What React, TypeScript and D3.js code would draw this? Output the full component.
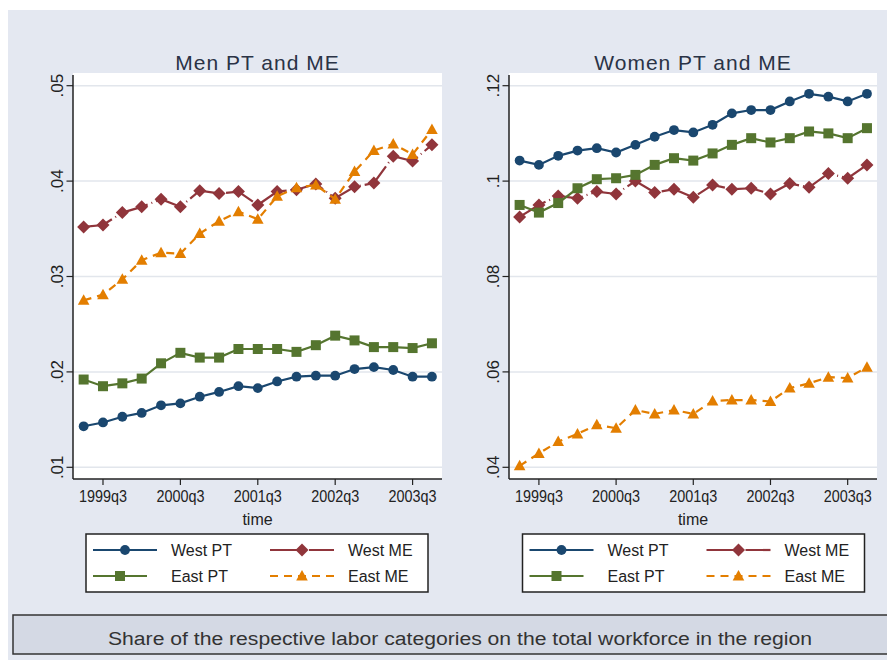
import * as d3 from "d3"

const quarters = [
  "1999q2", "1999q3", "1999q4",
  "2000q1", "2000q2", "2000q3", "2000q4",
  "2001q1", "2001q2", "2001q3", "2001q4",
  "2002q1", "2002q2", "2002q3", "2002q4",
  "2003q1", "2003q2", "2003q3", "2003q4",
]

const seriesNames = ["West PT", "West ME", "East PT", "East ME"]

const menWestPT = [0.0143, 0.0147, 0.0153, 0.0157, 0.0165, 0.0167, 0.0174, 0.0179, 0.0185, 0.0183, 0.019, 0.0195, 0.0196, 0.0196, 0.0203, 0.0205, 0.0202, 0.0195, 0.0195]
const menWestME = [0.0352, 0.0354, 0.0367, 0.0373, 0.0381, 0.0373, 0.039, 0.0387, 0.0389, 0.0375, 0.0389, 0.0391, 0.0397, 0.0382, 0.0394, 0.0398, 0.0426, 0.0421, 0.0438]
const menEastPT = [0.0192, 0.0185, 0.0188, 0.0193, 0.0209, 0.022, 0.0215, 0.0215, 0.0224, 0.0224, 0.0224, 0.0221, 0.0228, 0.0238, 0.0233, 0.0226, 0.0226, 0.0225, 0.023]
const menEastME = [0.0275, 0.0281, 0.0297, 0.0317, 0.0325, 0.0324, 0.0345, 0.0358, 0.0368, 0.036, 0.0384, 0.0393, 0.0396, 0.0381, 0.041, 0.0432, 0.0439, 0.0428, 0.0454]

const womenWestPT = [0.1043, 0.1034, 0.1053, 0.1064, 0.1069, 0.106, 0.1076, 0.1093, 0.1107, 0.1102, 0.1118, 0.1142, 0.1149, 0.1149, 0.1167, 0.1183, 0.1177, 0.1167, 0.1183]
const womenWestME = [0.0925, 0.095, 0.0969, 0.0964, 0.0978, 0.0973, 0.1, 0.0976, 0.0983, 0.0966, 0.0992, 0.0983, 0.0985, 0.0973, 0.0995, 0.0987, 0.1016, 0.1006, 0.1034]
const womenEastPT = [0.095, 0.0934, 0.0954, 0.0985, 0.1004, 0.1006, 0.1013, 0.1034, 0.1048, 0.1043, 0.1058, 0.1076, 0.109, 0.1081, 0.109, 0.1104, 0.11, 0.109, 0.1111]
const womenEastME = [0.0403, 0.0429, 0.0454, 0.047, 0.0489, 0.0482, 0.052, 0.0512, 0.052, 0.0512, 0.0539, 0.0541, 0.0541, 0.0538, 0.0566, 0.0576, 0.0589, 0.0587, 0.061]

const menTicks = [0.01, 0.02, 0.03, 0.04, 0.05]
const womenTicks = [0.04, 0.06, 0.08, 0.1, 0.12]

const colors = ["#1a476f", "#90353b", "#55752f", "#e37e00"]
const dashes = ["none", "30 4 1 4", "none", "8 6"]
const shapes = ["circle", "diamond", "square", "triangle"]

const FONT = "'Liberation Sans', Arial, sans-serif"
const fmt = (v: number) => String(+v.toFixed(3)).replace(/^0/, "")

function Marker({ shape, x, y, color }: any) {
  if (shape === "circle") return <circle cx={x} cy={y} r={4.9} fill={color} />
  if (shape === "square") return <rect x={x - 5} y={y - 5} width={10} height={10} fill={color} />
  if (shape === "diamond")
    return <path d={`M${x},${y - 6.5}L${x + 6.5},${y}L${x},${y + 6.5}L${x - 6.5},${y}Z`} fill={color} />
  return <path d={`M${x},${y - 6}L${x + 5.8},${y + 4.5}L${x - 5.8},${y + 4.5}Z`} fill={color} />
}

function Panel({ title, left, right, top, bottom, ticks, series }: any) {
  const x = d3.scaleLinear().domain([-0.55, quarters.length - 0.48]).range([left, right])
  const lo = ticks[0]
  const hi = ticks[ticks.length - 1]
  const y = d3.scaleLinear().domain([lo, hi]).range([bottom - 11.7, top + 12.7])
  const line = d3
    .line<number>()
    .x((_, i) => x(i))
    .y((d) => y(d))
  const xTicks = quarters.map((q, i) => [q, i] as [string, number]).filter(([q]) => q.endsWith("q3"))
  const cx = (left + right) / 2

  return (
    <g>
      <text x={cx} y={70} textAnchor="middle" fontSize={21} fill="#2a3346" fontFamily={FONT} letterSpacing={1}>
        {title}
      </text>
      <rect x={left} y={top} width={right - left} height={bottom - top} fill="#fff" />
      {ticks.map((t: number) => (
        <g key={t}>
          <line x1={left} x2={right} y1={y(t)} y2={y(t)} stroke="#e2e6ec" strokeWidth={1.5} />
          <line x1={left - 6.5} x2={left} y1={y(t)} y2={y(t)} stroke="#222" strokeWidth={1.2} />
          <text
            transform={`translate(${left - 10},${y(t)}) rotate(-90)`}
            textAnchor="middle"
            fontSize={17}
            fill="#222"
            fontFamily={FONT}
          >
            {fmt(t)}
          </text>
        </g>
      ))}
      {xTicks.map(([q, i]) => (
        <g key={q}>
          <line x1={x(i)} x2={x(i)} y1={bottom} y2={bottom + 6} stroke="#222" strokeWidth={1.2} />
          <text
            x={x(i)}
            y={501.5}
            textAnchor="middle"
            fontSize={16}
            fill="#222"
            fontFamily={FONT}
            textLength={48}
            lengthAdjust="spacingAndGlyphs"
          >
            {q}
          </text>
        </g>
      ))}
      <text x={cx} y={525} textAnchor="middle" fontSize={16} fill="#222" fontFamily={FONT}>
        time
      </text>
      <line x1={left} x2={left} y1={top + 2} y2={bottom} stroke="#222" strokeWidth={1.5} />
      <line x1={left} x2={right} y1={bottom} y2={bottom} stroke="#222" strokeWidth={1.5} />
      {series.map((vals: number[], s: number) => (
        <g key={s}>
          <path
            d={line(vals) || ""}
            fill="none"
            stroke={colors[s]}
            strokeWidth={2.2}
            strokeDasharray={dashes[s]}
          />
          {vals.map((v, i) => (
            <Marker key={i} shape={shapes[s]} x={x(i)} y={y(v)} color={colors[s]} />
          ))}
        </g>
      ))}
    </g>
  )
}

function Legend({ left }: any) {
  const top = 534
  const rows = [550, 576]
  const cols = [7, 184]
  return (
    <g>
      <rect x={left} y={top} width={342} height={58} fill="#fff" stroke="#222" strokeWidth={1.5} />
      {seriesNames.map((name, k) => {
        const lx = left + cols[k % 2]
        const ly = rows[Math.floor(k / 2)]
        const w = k === 2 ? 54 : 64
        return (
          <g key={name}>
            <line x1={lx} x2={lx + w} y1={ly} y2={ly} stroke={colors[k]} strokeWidth={2.2} strokeDasharray={dashes[k]} />
            <Marker shape={shapes[k]} x={lx + w / 2} y={ly} color={colors[k]} />
            <text x={lx + 78} y={ly + 6} fontSize={16} fill="#222" fontFamily={FONT}>
              {name}
            </text>
          </g>
        )
      })}
    </g>
  )
}

export default function App() {
  return (
    <svg width={887} height={652} style={{ display: "block" }}>
      <g transform="translate(-8,-8)">
        <rect x={8} y={10} width={887} height={650} fill="#e4e8f1" />
        <Panel
          title="Men PT and ME"
          left={73}
          right={442}
          top={73}
          bottom={479}
          ticks={menTicks}
          series={[menWestPT, menWestME, menEastPT, menEastME]}
        />
        <Panel
          title="Women PT and ME"
          left={509}
          right={877}
          top={73}
          bottom={479}
          ticks={womenTicks}
          series={[womenWestPT, womenWestME, womenEastPT, womenEastME]}
        />
        <Legend left={86} />
        <Legend left={522.5} />
        <rect x={13} y={615} width={880} height={39} fill="#d4d9e4" stroke="#333" strokeWidth={1.5} />
        <text
          x={460}
          y={645}
          textAnchor="middle"
          fontSize={18}
          fill="#333"
          fontFamily={FONT}
          textLength={704}
          lengthAdjust="spacingAndGlyphs"
        >
          Share of the respective labor categories on the total workforce in the region
        </text>
      </g>
    </svg>
  )
}
